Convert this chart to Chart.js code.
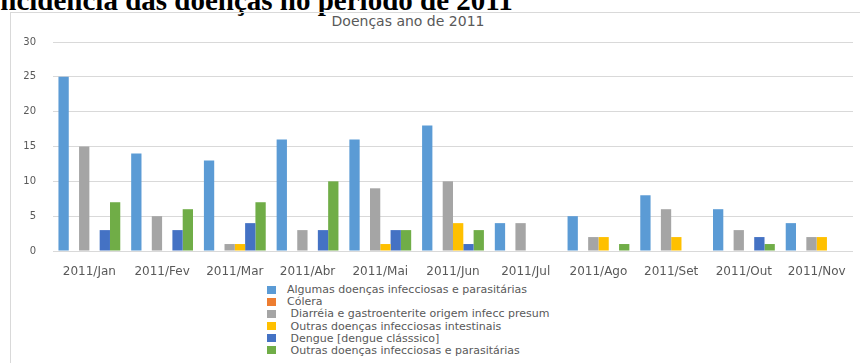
<!DOCTYPE html>
<html>
<head>
<meta charset="utf-8">
<script src="https://cdn.jsdelivr.net/npm/chart.js@4"></script>
<style>
  body { margin: 0; background: #ffffff; }
  #page { position: relative; width: 860px; height: 363px; overflow: hidden; background: #ffffff; }
  #heading { position: absolute; left: -11px; top: -14px; line-height: 29px; white-space: nowrap;
    font-family: "Liberation Serif", serif; font-weight: bold; font-size: 29px; color: #000000; }
  #frame { position: absolute; left: 10px; top: 12px; width: 860px; height: 400px;
    border-left: 1px solid #d9d9d9; border-top: 1px solid #d9d9d9; }
  #title { position: absolute; left: 258px; width: 300px; top: 13px; text-align: center;
    font-family: "DejaVu Sans", sans-serif; font-size: 14px; color: #595959; }
  #chartbox { position: absolute; left: 0; top: 0; width: 860px; height: 282px; }
  #legend { position: absolute; left: 267px; top: 284px; font-family: "DejaVu Sans", sans-serif;
    font-size: 11px; color: #595959; }
  #legend div { height: 12.2px; line-height: 12.2px; white-space: pre; }
  #legend span.box { display: inline-block; width: 9px; height: 8px; margin-right: 11px; vertical-align: -0.5px; }
</style>
</head>
<body>
<div id="page">
  <div id="heading">Incidência das doenças no período de 2011</div>
  <div id="frame"></div>
  <div id="title">Doenças ano de 2011</div>
  <div id="chartbox"><canvas id="doencas_chart"></canvas></div>
  <div id="legend"></div>
</div>
<script>
// months of 2011
let months = ['2011/Jan', '2011/Fev', '2011/Mar', '2011/Abr', '2011/Mai', '2011/Jun',
              '2011/Jul', '2011/Ago', '2011/Set', '2011/Out', '2011/Nov'];

let seriesNames = [
    'Algumas doenças infecciosas e parasitárias',
    'Cólera',
    ' Diarréia e gastroenterite origem infecc presum',
    ' Outras doenças infecciosas intestinais',
    ' Dengue [dengue clásssico]',
    ' Outras doenças infecciosas e parasitárias'
];

let algumasDoencas = [25, 14, 13, 16, 16, 18, 4, 5, 8, 6, 4];
let colera         = [0, 0, 0, 0, 0, 0, 0, 0, 0, 0, 0];
let diarreia       = [15, 5, 1, 3, 9, 10, 4, 2, 6, 3, 2];
let outrasIntest   = [0, 0, 1, 0, 1, 4, 0, 2, 2, 0, 2];
let dengue         = [3, 3, 4, 3, 3, 1, 0, 0, 0, 2, 0];
let outrasDoencas  = [7, 6, 7, 10, 3, 3, 0, 1, 0, 1, 0];

let yTicks = [0, 5, 10, 15, 20, 25, 30];

let colors = ['#5b9bd5', '#ed7d31', '#a5a5a5', '#ffc000', '#4472c4', '#70ad47'];

function buildChart() {
    let values = [algumasDoencas, colera, diarreia, outrasIntest, dengue, outrasDoencas];
    let datasets = [];
    seriesNames.forEach(function(name, index) {
        datasets.push({
            label: name,
            data: values[index],
            backgroundColor: colors[index],
            borderWidth: 0,
            categoryPercentage: 0.85,
            barPercentage: 1.0
        });
    });

    let config = {
        type: 'bar',
        data: { labels: months, datasets: datasets },
        options: {
            responsive: true,
            maintainAspectRatio: false,
            animation: false,
            layout: { padding: { left: 0, right: 7, top: 42, bottom: 0 } },
            plugins: {
                legend: { display: false },
                tooltip: { enabled: false },
                title: { display: false }
            },
            scales: {
                y: {
                    min: 0,
                    max: 30,
                    afterBuildTicks: function(scale) {
                        scale.ticks = yTicks.map(function(v) { return { value: v }; });
                    },
                    afterFit: function(scale) { scale.width = 53; },
                    border: { display: false },
                    grid: { color: '#d9d9d9', drawTicks: false },
                    ticks: {
                        padding: 17,
                        color: '#595959',
                        font: { family: 'DejaVu Sans', size: 10 }
                    }
                },
                x: {
                    afterFit: function(scale) { scale.height = 31; },
                    border: { display: false },
                    grid: { display: false },
                    ticks: {
                        padding: 6,
                        maxRotation: 0,
                        autoSkip: false,
                        color: '#595959',
                        font: { family: 'DejaVu Sans', size: 12 }
                    }
                }
            }
        }
    };
    let chart = new Chart(document.getElementById('doencas_chart'), config);

    // legend as a vertical list under the chart
    let items = Chart.defaults.plugins.legend.labels.generateLabels(chart);
    let legend = document.getElementById('legend');
    items.forEach(function(item) {
        let row = document.createElement('div');
        let box = document.createElement('span');
        box.className = 'box';
        box.style.background = item.fillStyle;
        row.appendChild(box);
        row.appendChild(document.createTextNode(item.text));
        legend.appendChild(row);
    });
    return chart;
}

buildChart();
</script>
</body>
</html>
